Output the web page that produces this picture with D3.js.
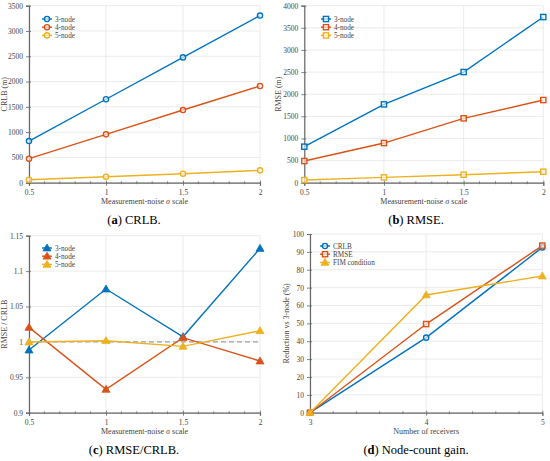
<!DOCTYPE html>
<html><head><meta charset="utf-8">
<script src="https://cdn.jsdelivr.net/npm/d3@7"></script>
<style>
body{margin:0;background:#fff;}
svg text{font-family:"Liberation Serif","DejaVu Serif",serif !important;}
</style></head>
<body><svg id="c" width="550" height="461"></svg>
<script>
// ---- data ----
const sigmaScale = [0.5, 1, 1.5, 2];
const seriesNames = ["3-node", "4-node", "5-node"];
const crlb3 = [824, 1650, 2478, 3305];
const crlb4 = [475, 956, 1437, 1912];
const crlb5 = [59, 119, 178, 244];
const rmse3 = [814, 1770, 2501, 3744];
const rmse4 = [490, 896, 1454, 1868];
const rmse5 = [60, 120, 181, 249];
const ratio3 = [0.9885, 1.0747, 1.0073, 1.132];
const ratio4 = [1.0205, 0.933, 1.006, 0.973];
const ratio5 = [0.9998, 1.0017, 0.9937, 1.0158];
const receivers = [3, 4, 5];
const gainNames = ["CRLB", "RMSE", "FIM condition"];
const gainCRLB = [0, 42.0, 92.5];
const gainRMSE = [0, 49.6, 93.5];
const gainFIM = [0, 65.9, 76.5];
const ticksA = [0, 500, 1000, 1500, 2000, 2500, 3000, 3500];
const ticksB = [0, 500, 1000, 1500, 2000, 2500, 3000, 3500, 4000];
const ticksC = [0.9, 0.95, 1, 1.05, 1.1, 1.15];
const ticksD = [0,10,20,30,40,50,60,70,80,90,100];
const ticksSigma = [0.5, 1, 1.5, 2];
const ticksRecv = [3, 4, 5];

const colors = ["#0072BD", "#D95319", "#EDB120"];
const FONT = "'Liberation Serif', 'DejaVu Serif', serif";
const svg = d3.select("#c");

function marker(g, type, x, y, color) {
  if (type === "circle") {
    g.append("circle").attr("cx", x).attr("cy", y).attr("r", 2.6)
      .attr("fill", "#fff").attr("fill-opacity", 0.6).attr("stroke", color).attr("stroke-width", 1.4);
  } else if (type === "square") {
    g.append("rect").attr("x", x - 2.6).attr("y", y - 2.6).attr("width", 5.2).attr("height", 5.2)
      .attr("fill", "#fff").attr("fill-opacity", 0.6).attr("stroke", color).attr("stroke-width", 1.4);
  } else {
    g.append("path").attr("d", d3.symbol(d3.symbolTriangle, 28)())
      .attr("transform", `translate(${x},${y + 0.6})`)
      .attr("fill", color).attr("stroke", color).attr("stroke-width", 0.8);
  }
}

function panel(o) {
  const g = svg.append("g");
  const x = d3.scaleLinear().domain(o.xDomain).range(o.xRange);
  const y = d3.scaleLinear().domain(o.yDomain).range(o.yRange);
  // grid
  g.selectAll(null).data(o.xTicks).enter().append("line")
    .attr("x1", d => x(d)).attr("x2", d => x(d)).attr("y1", o.yRange[0]).attr("y2", o.yRange[1])
    .attr("stroke", "#e3e3e3").attr("stroke-width", 0.7);
  g.selectAll(null).data(o.yTicks).enter().append("line")
    .attr("x1", o.xRange[0]).attr("x2", o.xRange[1]).attr("y1", d => y(d)).attr("y2", d => y(d))
    .attr("stroke", "#e3e3e3").attr("stroke-width", 0.7);
  if (o.refLine !== undefined) {
    g.append("line").attr("x1", x(o.xDomain[0])).attr("x2", x(o.xDomain[1]))
      .attr("y1", y(o.refLine)).attr("y2", y(o.refLine))
      .attr("stroke", "#8c8c8c").attr("stroke-width", 1).attr("stroke-dasharray", "5,3");
  }
  // axes
  const xa = g.append("g").attr("transform", `translate(0,${o.yRange[0]})`)
    .call(d3.axisBottom(x).tickValues(o.xTicks).tickFormat(d3.format("")).tickSize(3).tickPadding(4));
  const step = (o.xTicks[1] - o.xTicks[0]) / 5;
  const minor = d3.range(o.xDomain[0], o.xDomain[1] + step / 2, step).filter(v => !o.xTicks.some(t => Math.abs(t - v) < 1e-9));
  g.selectAll(null).data(minor).enter().append("line")
    .attr("x1", d => x(d)).attr("x2", d => x(d)).attr("y1", o.yRange[0] - 1.5).attr("y2", o.yRange[0] + 1.5)
    .attr("stroke", "#666").attr("stroke-width", 0.7);
  const ya = g.append("g").attr("transform", `translate(${o.xRange[0]},0)`)
    .call(d3.axisLeft(y).tickValues(o.yTicks).tickFormat(d3.format("")).tickSize(3).tickPadding(3));
  [xa, ya].forEach(a => {
    a.attr("font-family", FONT);
    a.select(".domain").attr("stroke", "#666").attr("stroke-width", 1.2);
    a.selectAll(".tick line").attr("stroke", "#666").attr("stroke-width", 0.8);
    a.selectAll("text").attr("font-family", FONT).attr("font-size", 7.5).attr("fill", "#444");
  });
  xa.selectAll(".tick line").attr("y1", -2);
  ya.selectAll(".tick line").attr("x1", 2);
  // labels
  const cx = (o.xRange[0] + o.xRange[1]) / 2;
  const cy = (o.yRange[0] + o.yRange[1]) / 2;
  const xl = g.append("text").attr("x", cx).attr("y", o.yRange[0] + 21).attr("text-anchor", "middle")
    .attr("font-family", FONT).attr("font-size", 8).attr("fill", "#444");
  if (o.xLabelParts) {
    o.xLabelParts.forEach(p => xl.append("tspan").attr("font-style", p.it ? "italic" : null).text(p.t));
  } else xl.text(o.xLabel);
  g.append("text").attr("transform", `translate(${o.yLabelX},${cy}) rotate(-90)`).attr("text-anchor", "middle")
    .attr("font-family", FONT).attr("font-size", 8).attr("fill", "#444").text(o.yLabel);
  // series
  o.series.forEach((s, i) => {
    const line = d3.line().x((d, j) => x(o.xValues[j])).y(d => y(d));
    g.append("path").attr("d", line(s.values)).attr("fill", "none").attr("stroke", colors[i]).attr("stroke-width", 1.4);
    s.values.forEach((v, j) => marker(g, s.marker, x(o.xValues[j]), y(v), colors[i]));
  });
  // legend
  o.series.forEach((s, i) => {
    const ly = o.legendY + i * 8.2;
    const lx = o.legendX;
    g.append("line").attr("x1", lx - 5).attr("x2", lx + 5).attr("y1", ly).attr("y2", ly)
      .attr("stroke", colors[i]).attr("stroke-width", 1.4);
    marker(g, s.marker, lx, ly, colors[i]);
    g.append("text").attr("x", lx + 8).attr("y", ly + 2.5).attr("font-family", FONT).attr("font-size", 7.2)
      .attr("fill", "#444").text(s.name);
  });
  // caption
  const cap = svg.append("text").attr("x", o.capX).attr("y", o.capY).attr("text-anchor", "middle")
    .attr("font-family", FONT).attr("font-size", 12.5).attr("fill", "#000");
  cap.append("tspan").text("(");
  cap.append("tspan").attr("font-weight", "bold").text(o.capLetter);
  cap.append("tspan").text(") " + o.capText);
}

const sigLabel = [{t: "Measurement-noise "}, {t: "σ", it: true}, {t: " scale"}];

panel({xDomain: [0.5, 2], xRange: [29, 260], yDomain: [0, 3500], yRange: [182.7, 5.7],
  xTicks: ticksSigma, yTicks: ticksA, xValues: sigmaScale, xLabelParts: sigLabel, yLabel: "CRLB (m)", yLabelX: 7,
  series: [{name: seriesNames[0], values: crlb3, marker: "circle"}, {name: seriesNames[1], values: crlb4, marker: "circle"}, {name: seriesNames[2], values: crlb5, marker: "circle"}],
  legendX: 47, legendY: 19, capX: 134, capY: 224, capLetter: "a", capText: "CRLB."});

panel({xDomain: [0.5, 2], xRange: [304.3, 543.3], yDomain: [0, 4000], yRange: [182.7, 5.7],
  xTicks: ticksSigma, yTicks: ticksB, xValues: sigmaScale, xLabelParts: sigLabel, yLabel: "RMSE (m)", yLabelX: 281,
  series: [{name: seriesNames[0], values: rmse3, marker: "square"}, {name: seriesNames[1], values: rmse4, marker: "square"}, {name: seriesNames[2], values: rmse5, marker: "square"}],
  legendX: 326, legendY: 19, capX: 416, capY: 224, capLetter: "b", capText: "RMSE."});

panel({xDomain: [0.5, 2], xRange: [29, 260], yDomain: [0.9, 1.15], yRange: [412.7, 235.7],
  xTicks: ticksSigma, yTicks: ticksC, xValues: sigmaScale, xLabelParts: sigLabel, yLabel: "RMSE / CRLB", yLabelX: 7,
  refLine: 1,
  series: [{name: seriesNames[0], values: ratio3, marker: "tri"}, {name: seriesNames[1], values: ratio4, marker: "tri"}, {name: seriesNames[2], values: ratio5, marker: "tri"}],
  legendX: 47, legendY: 248, capX: 134, capY: 454, capLetter: "c", capText: "RMSE/CRLB."});

panel({xDomain: [3, 5], xRange: [310, 542.3], yDomain: [0, 100], yRange: [412.7, 234],
  xTicks: ticksRecv, yTicks: ticksD, xValues: receivers, xLabel: "Number of receivers", yLabel: "Reduction vs 3-node (%)", yLabelX: 289,
  series: [{name: gainNames[0], values: gainCRLB, marker: "circle"}, {name: gainNames[1], values: gainRMSE, marker: "square"}, {name: gainNames[2], values: gainFIM, marker: "tri"}],
  legendX: 325, legendY: 246, capX: 416, capY: 454, capLetter: "d", capText: "Node-count gain."});
</script></body></html>
